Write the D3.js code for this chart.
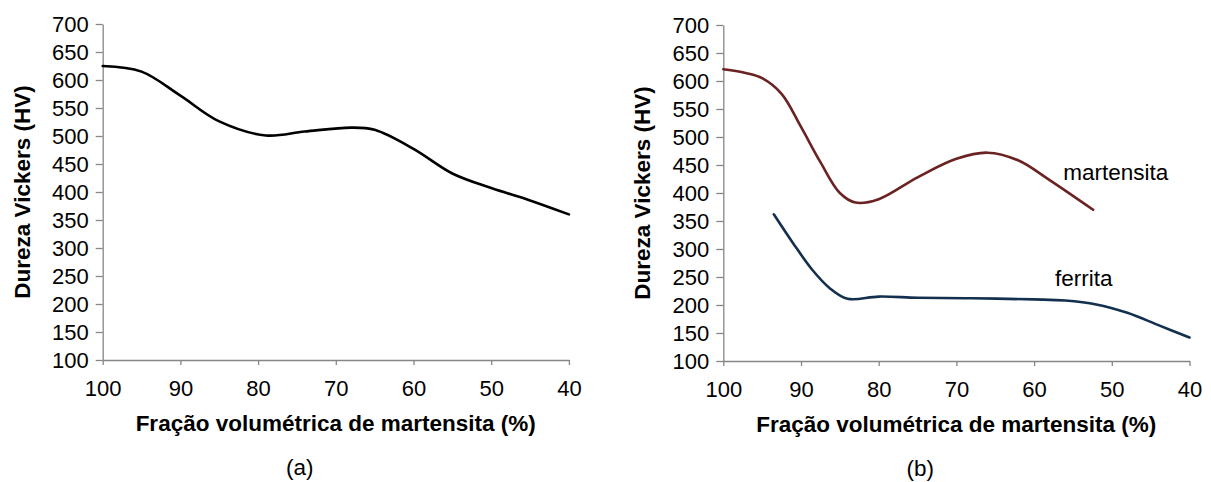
<!DOCTYPE html>
<html>
<head>
<meta charset="utf-8">
<script src="https://cdn.jsdelivr.net/npm/d3@7"></script>
<style>
  html, body { margin: 0; padding: 0; background: #fff; }
  svg { display: block; }
  text { font-family: "Liberation Sans", Arial, sans-serif; fill: #000; }
</style>
</head>
<body>
<svg id="chart" width="1211" height="482"></svg>
<script>
// ---- data ----
const xTicks = [100, 90, 80, 70, 60, 50, 40];
const yTicks = [100, 150, 200, 250, 300, 350, 400, 450, 500, 550, 600, 650, 700];

// (a) hardness vs martensite fraction
const fracA = [100, 95, 90, 85, 79, 74, 68, 65, 60, 55, 50, 45, 40];
const hvA   = [625, 615, 572, 526, 501, 508, 515, 511, 477, 433, 407, 385, 360];

// (b) martensite phase
const fracM = [100, 97, 95, 92.5, 90, 87.5, 85, 83, 80, 75, 70, 66, 62, 58, 52.4];
const hvM   = [621, 614, 605, 577, 518, 455, 400, 383, 389, 428, 461, 472, 458, 423, 370];

// (b) ferrite phase
const fracF = [93.5, 91, 88.5, 86.3, 84, 80, 75, 68, 60, 56, 52, 48, 44, 40];
const hvF   = [362, 310, 262, 230, 211, 215, 213, 212, 210, 208, 201, 186, 164, 142];

const xTitle = "Fração volumétrica de martensita (%)";
const yTitle = "Dureza Vickers (HV)";

const svg = d3.select("#chart");
const axisColor = "#868686";

function panel(cfg) {
  const x = d3.scaleLinear().domain([100, 40]).range([cfg.left, cfg.left + 466.2]);
  const y = d3.scaleLinear().domain([100, 700]).range([cfg.bottom, cfg.bottom - 336]);
  const g = svg.append("g");

  const ya = g.append("g").attr("transform", `translate(${cfg.left},0)`)
    .call(d3.axisLeft(y).tickValues(yTicks).tickSize(7).tickSizeOuter(0).tickPadding(7));
  const xa = g.append("g").attr("transform", `translate(0,${cfg.bottom})`)
    .call(d3.axisBottom(x).tickValues(xTicks).tickSize(5).tickSizeOuter(0).tickPadding(15));
  [ya, xa].forEach(a => {
    a.select(".domain").attr("stroke", axisColor).attr("stroke-width", 1.3);
    a.selectAll(".tick line").attr("stroke", axisColor).attr("stroke-width", 1.3);
    a.selectAll(".tick text").style("font-size", "22px").style("font-family", '"Liberation Sans", Arial, sans-serif').attr("fill", "#000");
  });

  const line = d3.line().curve(d3.curveCatmullRom.alpha(0.5))
    .x(d => x(d[0])).y(d => y(d[1]));

  cfg.series.forEach(s => {
    g.append("path")
      .datum(d3.zip(s.fx, s.hy))
      .attr("d", line)
      .attr("fill", "none")
      .attr("stroke", s.color)
      .attr("stroke-width", 2.6)
      .attr("stroke-linecap", "round");
    if (s.label) {
      g.append("text").attr("x", x(s.label.at[0])).attr("y", y(s.label.at[1]))
        .attr("text-anchor", "middle")
        .style("font-size", "22.5px")
        .text(s.label.text);
    }
  });

  g.append("text")
    .attr("transform", `translate(${cfg.left - 81},${cfg.bottom - 168}) rotate(-90)`)
    .attr("text-anchor", "middle").attr("dy", "0.35em")
    .style("font-size", "22.5px").style("font-weight", "bold")
    .text(yTitle);

  g.append("text")
    .attr("x", cfg.left + 233).attr("y", cfg.bottom + 71)
    .attr("text-anchor", "middle")
    .style("font-size", "22.5px").style("font-weight", "bold")
    .text(xTitle);

  g.append("text")
    .attr("x", cfg.left + 197).attr("y", cfg.bottom + 115)
    .attr("text-anchor", "middle")
    .style("font-size", "22.5px")
    .text(cfg.tag);
}

panel({
  left: 102.7, bottom: 360, tag: "(a)",
  series: [{ fx: fracA, hy: hvA, color: "#000000" }]
});

panel({
  left: 723.3, bottom: 361, tag: "(b)",
  series: [
    { fx: fracM, hy: hvM, color: "#6a2322", label: { text: "martensita", at: [49.5, 423] } },
    { fx: fracF, hy: hvF, color: "#14304f", label: { text: "ferrita", at: [53.6, 234] } }
  ]
});
</script>
</body>
</html>
